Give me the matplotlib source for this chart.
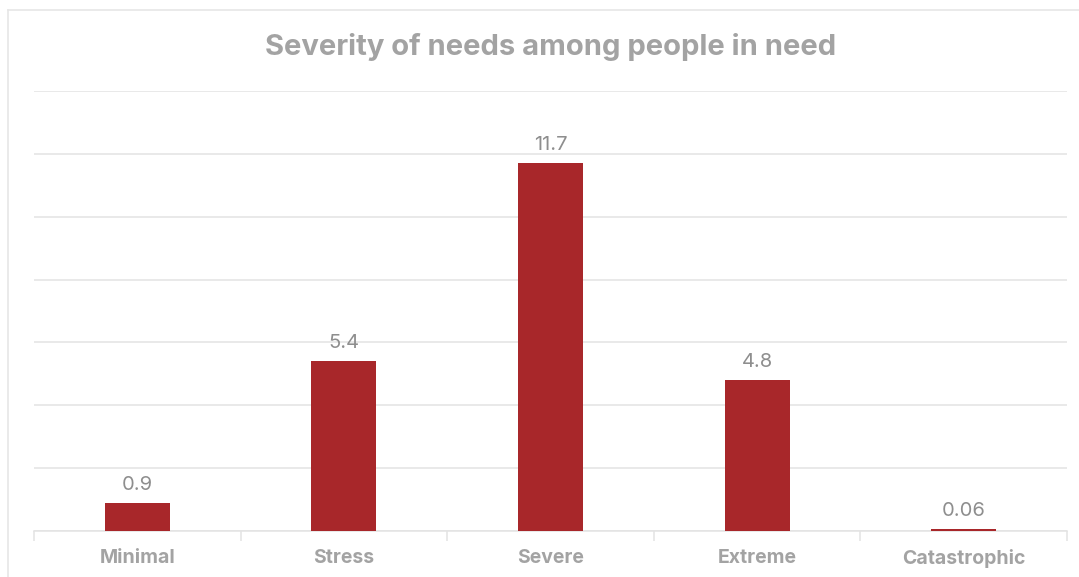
import matplotlib
matplotlib.use("Agg")
import matplotlib.pyplot as plt
from matplotlib.lines import Line2D
import numpy as np

categories = ["Minimal", "Stress", "Severe", "Extreme", "Catastrophic"]
values = [0.9, 5.4, 11.7, 4.8, 0.06]
value_labels = ["0.9", "5.4", "11.7", "4.8", "0.06"]
title = "Severity of needs among people in need"

W, H = 1079, 577
fig = plt.figure(figsize=(W / 100, H / 100), dpi=100)
fig.patch.set_facecolor("white")

left, right, top, bottom = 34, 1067, 91, 531
ax = fig.add_axes([left / W, (H - bottom) / H, (right - left) / W, (bottom - top) / H])

bar_color = "#A8272A"
grid_color = "#E3E3E3"
text_gray = "#A3A3A3"
value_gray = "#8E8E8E"
font = "Inter"

x = np.arange(len(categories))
ax.bar(x, values, width=0.315, color=bar_color, zorder=3)

for xi, v, lab in zip(x, values, value_labels):
    ax.annotate(lab, (xi, v), xytext=(0, 9.5), textcoords="offset points",
                ha="center", va="baseline", fontsize=14.5, color=value_gray,
                family=font)

ax.set_xlim(-0.5, len(categories) - 0.5)
ax.set_ylim(0, 14)
ax.set_yticks(np.arange(0, 15, 2))
ax.yaxis.grid(True, color=grid_color, linewidth=1.1, zorder=0)
ax.tick_params(axis="y", left=False, labelleft=False)

# category boundaries as major ticks, labels on minor ticks at bar centres
ax.set_xticks(np.arange(-0.5, len(categories)))
ax.set_xticklabels([])
ax.set_xticks(x, minor=True)
ax.set_xticklabels(categories, minor=True, fontsize=14, fontweight="bold",
                   color=text_gray, family=font)
ax.tick_params(axis="x", which="major", length=7, width=1.1, color=grid_color)
ax.tick_params(axis="x", which="minor", length=0, pad=13)

for s in ["top", "right", "left"]:
    ax.spines[s].set_visible(False)
ax.spines["bottom"].set_color(grid_color)
ax.spines["bottom"].set_linewidth(1.1)

fig.text((left + right) / 2 / W, 1 - 47 / H, title, ha="center", va="center",
         fontsize=21, fontweight="bold", color=text_gray, family=font)

# outer frame
border = "#E6E6E6"
fig.add_artist(Line2D([8 / W, 1], [1 - 10 / H, 1 - 10 / H], color=border, linewidth=1.2))
fig.add_artist(Line2D([8 / W, 8 / W], [0, 1 - 10 / H], color=border, linewidth=1.2))

fig.savefig("out.png", dpi=100, facecolor="white")
